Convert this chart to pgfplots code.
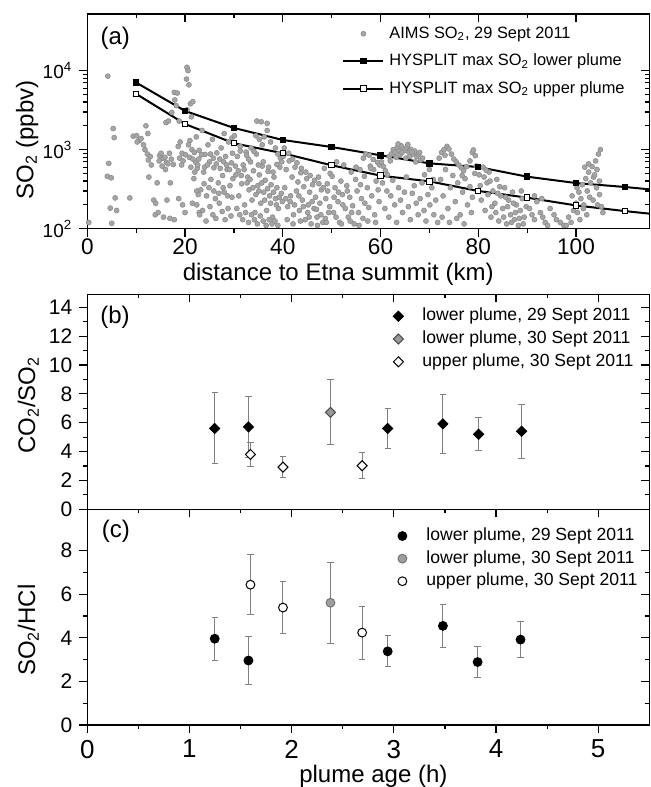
\documentclass[border=0pt]{standalone}
\usepackage{fontspec}
\setmainfont{Liberation Sans}
\usepackage{pgfplots}
\usepackage{pgfplotstable}
\pgfplotsset{compat=1.18}

% CO2/SO2 ratios: x = plume age (h), y, symmetric error
\pgfplotstableread{
x y e
1.247 5.60 2.46
1.577 5.71 2.14
2.94 5.60 1.38
3.48 5.92 2.05
3.83 5.20 1.14
4.25 5.41 1.86
}\colowA
\pgfplotstableread{
x y e
2.38 6.72 2.25
}\colowB
\pgfplotstableread{
x y e
1.597 3.80 0.80
1.915 2.92 0.73
2.69 3.02 0.89
}\coupB

% SO2/HCl ratios
\pgfplotstableread{
x y e
1.247 3.96 0.99
1.577 2.96 1.10
2.94 3.38 0.71
3.48 4.55 0.99
3.82 2.89 0.70
4.24 3.92 0.83
}\hclowA
\pgfplotstableread{
x y e
2.38 5.61 1.87
}\hclowB
\pgfplotstableread{
x y e
1.597 6.44 1.39
1.915 5.39 1.19
2.69 4.24 1.22
}\hcupB

\pgfplotsset{
  panel/.style={
    scale only axis, width=281pt, anchor=south west,
    axis line style={line width=0.75pt},
    every tick/.style={black, line width=0.6pt},
    major tick length=4pt, minor tick length=2pt,
    tick align=outside, xtick pos=bottom, ytick pos=left,
    /pgf/number format/assume math mode=true,
    legend cell align=left,
    legend image code/.code={\path[draw=none, fill=none] (0pt,-1pt) rectangle (20pt,1pt);
      \draw[mark repeat=2,mark phase=2,##1] plot coordinates {(0pt,0pt)(10pt,0pt)(20pt,0pt)};},
  },
  mirror/.style={
    scale only axis, width=281pt, anchor=south west,
    axis line style={draw=none},
    every tick/.style={black, line width=0.6pt},
    major tick length=4pt, minor tick length=2pt,
    tick align=inside, xtick pos=top, ytick pos=right,
    xticklabels={}, yticklabels={},
  },
  errs/.style={
    only marks,
    error bars/y dir=both, error bars/y explicit,
    error bars/error bar style={black!50, line width=0.5pt},
    error bars/error mark options={rotate=90, black!50, mark size=1.6pt, line width=0.5pt},
  },
}

\begin{document}
\begin{tikzpicture}
% ---------------- (a)
\begin{axis}[panel, at={(0,248.15pt)}, height=107.35pt,
  xmin=0, xmax=115, ymode=log, ymin=100, ymax=52000,
  xtick={0,20,...,100}, minor x tick num=1,
  ytick={100,1000,10000},
  yticklabels={10\textsuperscript{2},10\textsuperscript{3},10\textsuperscript{4}},
  xticklabel style={font=\fontsize{11.3}{13}\selectfont, yshift=2.5pt},
  yticklabel style={font=\fontsize{9.5}{11}\selectfont},
  xlabel={distance to Etna summit (km)},
  xlabel style={at={(axis description cs:0.4464,-0.212)}, anchor=center, font=\fontsize{12}{14}\selectfont},
  ylabel={SO\textsubscript{2} (ppbv)},
  ylabel style={at={(axis description cs:-0.107,0.413)}, anchor=center, font=\fontsize{12}{14}\selectfont},
  legend style={draw=none, fill=none, at={(axis description cs:0.4425,0.967)}, anchor=north west,
    font=\fontsize{8.2}{10}\selectfont, row sep=5.4pt, column sep=2.5pt,
    nodes={inner sep=0pt, text height=6.5pt, text depth=1.8pt}},
]
% AIMS SO2 scatter, 29 Sept 2011 (km, ppbv)
\addplot[only marks, mark=*, mark size=1.25pt, mark options={fill=black!35, draw=black!45, line width=0.3pt}] coordinates {
(0.3,120) (4.2,8500) (4.4,670) (4.1,460) (4.9,440) (5.3,1850) (5.5,1420) (5.7,245) (4.7,182) (6.0,170) (5.0,117) (8.7,245)
(9.4,1480) (10.1,1500) (10.6,1300) (11.0,1380) (10.2,1250) (11.5,1150) (12.0,2000) (12.4,1600) (11.8,1000) (12.3,880)
(12.9,820) (12.5,740) (13.1,640) (12.6,450) (13.6,230) (14.0,210) (14.3,380) (13.9,150) (14.5,160) (14.8,840) (15.1,900)
(15.5,780) (14.7,720) (15.9,800) (16.2,690) (15.3,620) (16.5,660) (16.0,560) (16.8,900) (17.2,760) (17.6,650) (17.0,380)
(16.3,230) (15.6,140) (16.9,135) (17.8,130) (16.1,2200) (16.6,2300) (17.3,2950) (17.8,5300) (18.4,5200) (17.9,4250)
(18.2,3600) (18.8,2300) (19.0,1250) (18.6,1100) (19.4,900) (18.9,780) (19.6,720) (20.1,860) (19.3,640) (18.7,240)
(19.5,200) (20.0,160)
(20.4,11000) (20.6,10000) (20.3,7800) (20.8,6600) (21.1,3800) (21.6,4050) (20.4,3200) (21.3,2600) (21.0,1300) (20.7,1150)
(21.4,1000) (21.9,920) (20.9,800) (21.6,760) (22.2,690) (21.2,600) (22.5,580) (22.0,520) (21.8,430) (22.4,300) (22.7,270)
(21.5,210) (22.9,160)
(22.3,1450) (22.6,640) (22.9,980) (23.2,310) (23.5,1750) (23.8,520) (24.1,870) (24.4,260) (24.7,1150) (25.0,700) (25.3,420)
(25.6,1350) (25.9,590) (26.2,240) (26.5,910) (26.8,380) (27.1,760) (27.4,1050) (27.7,470) (28.0,290) (28.3,820) (28.6,560)
(28.9,1250) (29.2,350) (29.5,680) (29.8,430) (22.4,200) (23.0,150) (23.6,170) (24.3,125) (25.1,190) (25.7,150) (26.3,135)
(27.0,210) (27.6,165) (28.2,130) (28.8,180) (29.4,145) (22.8,760) (23.4,860) (24.0,600) (24.6,640) (25.2,880) (25.8,780)
(26.4,660) (27.2,580) (27.9,700) (28.5,640) (29.1,560) (29.7,900) (23.9,370) (24.9,330) (25.9,300) (26.9,280) (27.8,330)
(28.7,260) (29.6,250) (28.0,1600) (29.6,1400)
(30.1,1500) (30.4,480) (30.7,820) (31.0,260) (31.3,1100) (31.6,370) (31.9,640) (32.2,200) (32.5,930) (32.8,450) (33.1,310)
(33.4,700) (33.7,230) (34.0,540) (34.3,160) (34.6,880) (34.9,350) (35.2,480) (35.5,210) (35.8,620) (36.1,290) (36.4,410)
(36.7,170) (37.0,530) (37.3,260) (37.6,360) (37.9,140) (38.2,450) (38.5,240) (38.8,330) (39.1,180) (39.4,600) (39.7,280)
(30.3,620) (30.9,540) (31.5,470) (32.1,560) (32.7,380) (33.3,420) (33.9,330) (34.5,270) (35.1,300) (35.7,380) (36.3,230)
(36.9,320) (37.5,210) (38.1,290) (38.7,200) (39.3,250) (39.9,220)
(30.6,180) (31.2,150) (31.8,130) (32.4,160) (33.0,120) (33.6,150) (34.2,130) (34.8,115) (35.4,145) (36.0,125) (36.6,110)
(37.2,130) (37.8,115) (38.4,125) (39.0,110)
(34.7,2300) (35.6,2250) (36.8,2150) (36.8,1750) (34.5,1500) (35.2,1350) (36.2,1450) (35.8,1150) (33.5,1050) (34.1,950)
(37.5,1250) (38.5,1050) (39.0,880) (39.5,780) (38.8,650) (39.8,700) (31.3,960) (32.6,850) (33.0,760) (37.1,600) (36.0,700)
(35.0,640) (38.0,520)
(40.1,820) (40.4,330) (40.7,560) (41.0,190) (41.3,720) (41.6,260) (41.9,450) (42.2,150) (42.5,600) (42.8,300) (43.1,390)
(43.4,170) (43.7,510) (44.0,230) (44.3,340) (44.6,130) (44.9,430) (45.2,200) (45.5,290) (45.8,115) (46.1,360) (46.4,180)
(46.7,250) (47.0,140) (47.3,450) (47.6,210) (47.9,310) (48.2,120) (48.5,580) (48.8,240) (49.1,370) (49.4,160) (49.7,500)
(40.3,1050) (41.2,900) (42.0,760) (42.9,680) (43.8,580) (44.7,520) (45.6,470) (46.5,410) (47.4,370) (48.3,330) (49.2,300)
(40.6,240) (41.5,220) (42.4,200) (43.3,260) (44.2,190) (45.1,160) (46.0,220) (46.9,175) (47.8,150) (48.7,135) (49.6,190)
(40.9,130) (42.1,115) (43.6,125) (45.4,140) (47.1,110) (48.9,120)
(50.1,460) (50.4,160) (50.7,330) (51.0,700) (51.3,220) (51.6,120) (51.9,400) (52.2,270) (52.5,640) (52.8,180) (53.1,350)
(53.4,140) (53.7,250) (54.0,520) (54.3,195) (54.6,115) (54.9,420) (55.2,300) (55.5,160) (55.8,560) (56.1,240) (56.4,135)
(56.7,460) (57.0,880) (57.3,330) (57.6,185) (57.9,620) (58.2,260) (58.5,750) (58.8,150) (59.1,400) (59.4,690) (59.7,220)
(50.5,250) (51.4,290) (52.3,200) (53.2,300) (54.1,160) (55.0,600) (55.9,360) (56.8,210) (57.7,850) (58.6,560) (59.5,310)
(50.9,140) (52.0,115) (53.8,125) (55.6,110) (57.4,125) (59.0,120) (56.5,780) (58.0,580) (59.8,640)
(60.2,700) (60.6,610) (61.0,540) (61.4,480) (61.8,820) (62.2,880) (62.6,1000) (63.0,930) (63.4,1060) (63.8,960) (64.2,1120)
(64.6,1020) (65.0,980) (65.4,1070) (65.8,930) (66.2,1010) (66.6,880) (67.0,960) (67.4,820) (67.8,870) (68.2,740) (68.6,780)
(62.0,720) (63.2,800) (64.0,860) (65.2,780) (66.0,820) (67.2,700) (63.6,1180) (65.6,1160) (68.0,920) (64.4,920) (66.4,940)
(60.4,380) (60.9,180) (61.3,300) (61.7,140) (62.1,260) (62.5,410) (62.9,200) (63.3,120) (63.7,330) (64.1,230) (64.5,160)
(64.9,290) (65.3,450) (65.7,190) (66.1,130) (66.5,280) (66.9,350) (67.3,210) (67.7,150) (68.1,240) (68.5,380) (68.9,170)
(69.3,125) (69.7,270) (70.1,200) (70.5,330) (70.9,150) (71.3,230) (71.7,120) (69.0,480) (70.0,560) (70.8,420)
(72.0,780) (72.5,920) (73.0,1000) (73.6,1100) (74.0,1020) (73.2,850) (74.5,880) (75.0,760) (75.5,700) (76.0,640) (76.5,590)
(77.0,540) (78.3,720) (78.8,920) (79.0,990) (79.4,840)
(72.3,420) (72.8,260) (73.3,560) (73.8,180) (74.3,330) (74.8,470) (75.3,220) (75.8,380) (76.3,150) (76.8,290) (77.3,430)
(77.8,200) (78.3,340) (78.8,250) (79.3,500) (79.8,300) (72.6,140) (74.1,120) (75.6,135) (77.1,115) (78.6,160) (77.6,610)
(79.6,620) (76.7,470)
(80.2,480) (80.6,230) (81.0,600) (81.4,170) (81.8,380) (82.2,520) (82.6,140) (83.0,300) (83.4,210) (83.8,420) (84.2,125)
(84.6,260) (85.0,180) (85.4,330) (85.8,115) (86.2,230) (86.6,150) (87.0,290) (87.4,130) (87.8,200) (88.2,110) (88.6,170)
(89.0,240) (89.4,140) (89.8,190)
(80.4,350) (81.2,450) (82.0,270) (82.8,190) (83.6,160) (84.4,340) (85.2,140) (86.0,190) (86.8,120) (87.6,160) (88.4,135)
(89.2,115) (81.6,550) (82.4,400) (84.0,280) (85.6,250) (87.2,210) (88.8,300)
(90.5,180) (91.0,150) (91.5,130) (92.0,220) (92.7,160) (93.2,140) (93.7,120) (94.2,110) (94.7,180) (95.5,150) (96.0,130)
(96.8,120) (97.5,110) (91.5,260) (93.0,240)
(98.0,110) (98.5,140) (99.0,120) (99.5,170) (100.0,210) (100.3,160) (100.6,290) (101.0,240) (101.3,360) (101.6,200)
(102.0,430) (102.3,300) (102.6,520) (103.0,380) (103.3,610) (103.6,450) (104.0,720) (104.3,560) (104.6,880) (105.0,1000)
(99.2,260) (100.2,330) (100.8,130) (101.5,180) (102.2,150) (102.8,250) (103.5,230) (104.2,330) (104.8,270) (105.2,190)
(101.8,600) (102.6,660) (103.8,480) (104.4,200) (105.5,160) (104.8,400)
};
\addlegendentry{AIMS SO\textsubscript{2}, 29 Sept 2011}
\addplot[black, line width=1pt, mark=square*, mark size=1.35pt, mark options={solid, fill=black, line width=0.5pt}] coordinates {
  (10,7050) (20,3090) (30,1880) (40,1325) (50,1080) (60,848) (70,671) (80,603) (90,455) (100,378) (110,337) (120,294)};
\addlegendentry{HYSPLIT max SO\textsubscript{2} lower plume}
\addplot[black, line width=1pt, mark=square*, mark size=1.35pt, mark options={solid, fill=white, line width=0.5pt}] coordinates {
  (10,5070) (20,2110) (30,1203) (40,900) (50,634) (60,469) (70,397) (80,300) (90,247) (100,197) (110,167) (120,144)};
\addlegendentry{HYSPLIT max SO\textsubscript{2} upper plume}
\node[font=\fontsize{12}{14}\selectfont] at (axis description cs:0.0498,0.888) {(a)};
\end{axis}
\begin{axis}[mirror, at={(0,248.15pt)}, height=107.35pt,
  xmin=0, xmax=115, ymode=log, ymin=100, ymax=52000,
  xtick={0,20,...,100}, minor x tick num=1, ytick={100,1000,10000}]
\end{axis}

% ---------------- (b)
\begin{axis}[panel, at={(0,107.85pt)}, height=107.5pt,
  xmin=0, xmax=5.5, ymin=0, ymax=14.9,
  xtick={0,...,5}, minor x tick num=1, xticklabels={},
  ytick={0,2,...,14}, minor y tick num=1,
  yticklabel style={font=\fontsize{10.5}{12}\selectfont},
  ylabel={CO\textsubscript{2}/SO\textsubscript{2}},
  ylabel style={at={(axis description cs:-0.105,0.484)}, anchor=center, font=\fontsize{12}{14}\selectfont},
  legend style={draw=none, fill=none, at={(axis description cs:0.5066,0.957)}, anchor=north west,
    font=\fontsize{8.8}{11}\selectfont, row sep=3.1pt, column sep=2pt,
    nodes={inner sep=0pt, text height=6.5pt, text depth=1.8pt}},
]
\addplot[errs, mark=square*, mark size=1.77pt, mark options={rotate=45, fill=black, draw=black, line width=0.5pt}]
  table[x=x, y=y, y error=e] {\colowA};
\addlegendentry{lower plume, 29 Sept 2011}
\addplot[errs, mark=square*, mark size=1.77pt, mark options={rotate=45, fill=black!40, draw=black!70, line width=0.5pt}]
  table[x=x, y=y, y error=e] {\colowB};
\addlegendentry{lower plume, 30 Sept 2011}
\addplot[errs, mark=square*, mark size=1.77pt, mark options={rotate=45, fill=white, draw=black, line width=0.5pt}]
  table[x=x, y=y, y error=e] {\coupB};
\addlegendentry{upper plume, 30 Sept 2011}
\node[font=\fontsize{12}{14}\selectfont] at (axis description cs:0.0493,0.894) {(b)};
\end{axis}
\begin{axis}[mirror, at={(0,107.85pt)}, height=107.5pt,
  xmin=0, xmax=5.5, ymin=0, ymax=14.9,
  xtick={0,...,5}, minor x tick num=1, ytick={0,2,...,14}, minor y tick num=1]
\end{axis}

% ---------------- (c)
\begin{axis}[panel, at={(0,0)}, height=107.85pt,
  xmin=0, xmax=5.5, ymin=0, ymax=9.9,
  xtick={0,...,5}, minor x tick num=1,
  ytick={0,2,...,8}, minor y tick num=1,
  xticklabel style={font=\fontsize{13}{15}\selectfont},
  yticklabel style={font=\fontsize{10.5}{12}\selectfont},
  xlabel={plume age (h)},
  xlabel style={at={(axis description cs:0.509,-0.237)}, anchor=center, font=\fontsize{12}{14}\selectfont},
  ylabel={SO\textsubscript{2}/HCl},
  ylabel style={at={(axis description cs:-0.105,0.44)}, anchor=center, font=\fontsize{12}{14}\selectfont},
  legend style={draw=none, fill=none, at={(axis description cs:0.5137,0.935)}, anchor=north west,
    font=\fontsize{8.8}{11}\selectfont, row sep=3.0pt, column sep=2pt,
    nodes={inner sep=0pt, text height=6.5pt, text depth=1.8pt}},
]
\addplot[errs, mark=*, mark size=2.2pt, mark options={fill=black, draw=black, line width=0.5pt}]
  table[x=x, y=y, y error=e] {\hclowA};
\addlegendentry{lower plume, 29 Sept 2011}
\addplot[errs, mark=*, mark size=2.2pt, mark options={fill=black!38, draw=black!55, line width=0.5pt}]
  table[x=x, y=y, y error=e] {\hclowB};
\addlegendentry{lower plume, 30 Sept 2011}
\addplot[errs, mark=*, mark size=2.2pt, mark options={fill=white, draw=black, line width=0.5pt}]
  table[x=x, y=y, y error=e] {\hcupB};
\addlegendentry{upper plume, 30 Sept 2011}
\node[font=\fontsize{12}{14}\selectfont] at (axis description cs:0.0509,0.896) {(c)};
\end{axis}
\begin{axis}[mirror, at={(0,0)}, height=107.85pt,
  xmin=0, xmax=5.5, ymin=0, ymax=9.9,
  xtick={0,...,5}, minor x tick num=1, ytick={0,2,...,8}, minor y tick num=1]
\end{axis}

\pgfresetboundingbox
\path[use as bounding box] (-43.65pt,-31pt) rectangle (281.35pt,362.5pt);
\end{tikzpicture}
\end{document}
